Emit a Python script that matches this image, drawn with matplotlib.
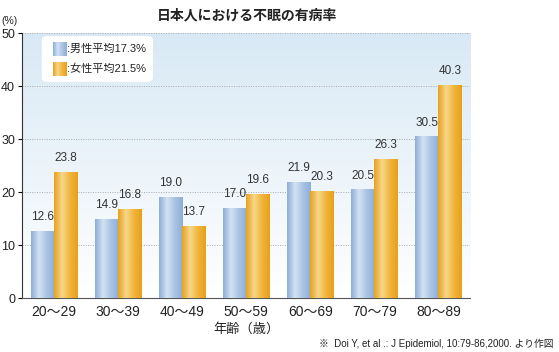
import numpy as np
import matplotlib.pyplot as plt
from matplotlib.patches import FancyBboxPatch, Rectangle
from matplotlib.colors import LinearSegmentedColormap

plt.rcParams['font.family'] = ['Liberation Sans', 'Noto Sans CJK JP']

# Data
age_groups = ['20～29', '30～39', '40～49', '50～59', '60～69', '70～79', '80～89']
male = [12.6, 14.9, 19.0, 17.0, 21.9, 20.5, 30.5]
female = [23.8, 16.8, 13.7, 19.6, 20.3, 26.3, 40.3]
legend_labels = [':男性平均17.3%', ':女性平均21.5%']

blue_cmap = LinearSegmentedColormap.from_list('b', ['#8eaed6', '#d3e2f2', '#a9c3e3', '#8eaed6'])
orange_cmap = LinearSegmentedColormap.from_list('o', ['#e9a21c', '#f7d68a', '#f0b63c', '#e8a01a'])

fig = plt.figure(figsize=(5.59, 3.52), dpi=100)
ax = fig.add_axes([0.0394, 0.153, 0.802, 0.753])

x = np.arange(len(age_groups))
w = 0.36
ax.set_xlim(-0.5, len(age_groups) - 0.5)
ax.set_ylim(0, 50)

# background gradient
bg = LinearSegmentedColormap.from_list('bg', ['#ffffff', '#d8e9f5'])
ax.imshow(np.linspace(0, 1, 256).reshape(-1, 1), cmap=bg, aspect='auto',
          extent=[-0.5, len(age_groups) - 0.5, 0, 50], origin='lower', zorder=0)

grad = np.linspace(0, 1, 64).reshape(1, -1)


def draw_bars(xs, vals, cmap):
    for xi, v in zip(xs, vals):
        rect = Rectangle((xi - w / 2, 0), w, v, facecolor='none', edgecolor='none')
        ax.add_patch(rect)
        im = ax.imshow(grad, cmap=cmap, aspect='auto',
                       extent=[xi - w / 2, xi + w / 2, 0, v], zorder=3)
        im.set_clip_path(rect)
        ax.text(xi, v + 1.5, f'{v:.1f}', ha='center', va='bottom',
                fontsize=8.5, color='#333333', zorder=4)


draw_bars(x - w / 2, male, blue_cmap)
draw_bars(x + w / 2, female, orange_cmap)

ax.set_xticks(x)
ax.set_xticklabels(age_groups, fontsize=10, color='#222222')
ax.set_yticks(range(0, 51, 10))
ax.set_yticklabels([str(v) for v in range(0, 51, 10)], fontsize=9, color='#222222')
ax.tick_params(axis='x', length=0, pad=5)
ax.tick_params(axis='y', length=3, width=0.8, pad=2)
ax.yaxis.grid(True, linestyle=(0, (1, 1.5)), color='#aaaaaa', linewidth=0.7, zorder=1)
ax.set_axisbelow(True)
for s in ['top', 'right']:
    ax.spines[s].set_visible(False)
ax.spines['left'].set_color('#333333')
ax.spines['left'].set_linewidth(0.8)
ax.spines['bottom'].set_color('#555555')
ax.spines['bottom'].set_linewidth(0.8)

ax.set_xlabel('年齢（歳）', fontsize=9.5, color='#222222', labelpad=3)

# legend box
box = FancyBboxPatch((0.048, 0.82), 0.24, 0.165, boxstyle='round,pad=0.004,rounding_size=0.015',
                     transform=ax.transAxes, facecolor='white', edgecolor='none', zorder=5)
ax.add_patch(box)
for i, (lab, cm) in enumerate(zip(legend_labels, [blue_cmap, orange_cmap])):
    y0 = 0.94 - i * 0.075
    sq = Rectangle((0.069, y0 - 0.026), 0.03, 0.052, transform=ax.transAxes,
                   facecolor='none', edgecolor='none')
    ax.add_patch(sq)
    im = ax.imshow(grad, cmap=cm, aspect='auto', transform=ax.transAxes,
                   extent=[0.069, 0.099, y0 - 0.026, y0 + 0.026], zorder=6)
    im.set_clip_path(sq)
    ax.text(0.101, y0, lab, transform=ax.transAxes, fontsize=8, va='center',
            color='#222222', zorder=6)

ax.set_xlim(-0.5, len(age_groups) - 0.5)
ax.set_ylim(0, 50)

fig.text(0.442, 0.957, '日本人における不眠の有病率', ha='center', va='center',
         fontsize=10, fontweight='bold', color='#222222')
fig.text(0.003, 0.94, '(%)', ha='left', va='center', fontsize=7.5, color='#222222')
fig.text(0.99, 0.022, '※  Doi Y, et al .: J Epidemiol, 10:79-86,2000. より作図',
         ha='right', va='center', fontsize=7, color='#222222')

plt.savefig('out.png', dpi=100)
